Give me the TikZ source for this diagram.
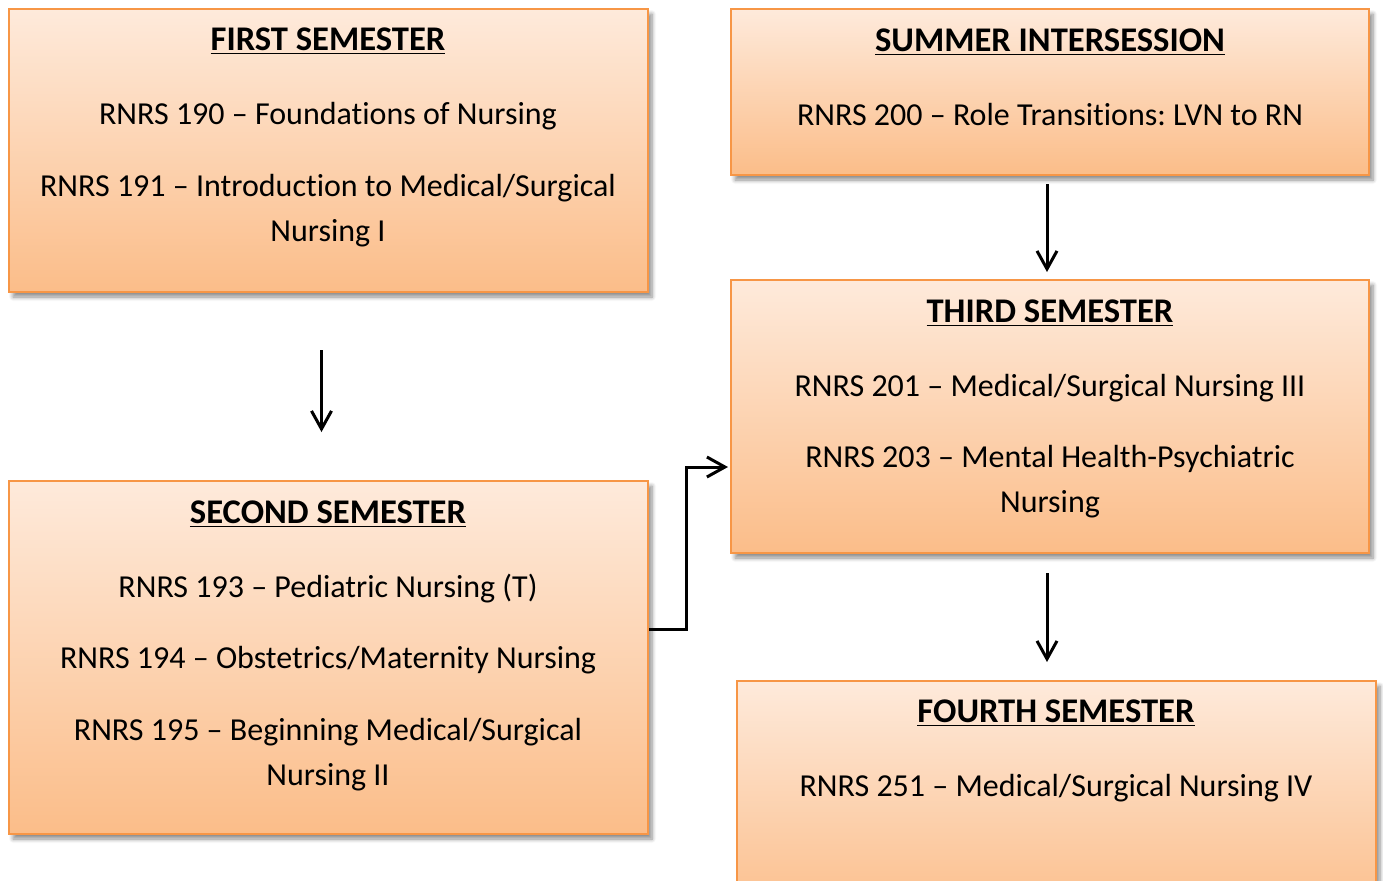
\documentclass[tikz,border=0pt]{standalone}
\usepackage{fontspec}
\setmainfont[Ligatures={TeX,NoCommon}]{Carlito}
\usetikzlibrary{shadows.blur,arrows.meta}
\definecolor{semtop}{HTML}{FEEADB}
\definecolor{sembot}{HTML}{FBBD89}
\definecolor{semline}{HTML}{F79646}
\frenchspacing
\tikzset{
  sembox/.style={draw=semline,line width=1pt,top color=semtop,bottom color=sembot,
    blur shadow={shadow xshift=2pt,shadow yshift=-2.5pt,shadow blur steps=6,shadow blur radius=2pt,shadow opacity=45}},
  semtext/.style={anchor=north,align=center,inner sep=0pt,font=\fontsize{16}{22.5}\selectfont},
  flow/.style={line width=1.5pt,-{Straight Barb[length=9pt,width=10pt,line width=1.5pt]}}
}
\newcommand{\semtitle}[1]{{\fontsize{17.3}{22.5}\selectfont\textbf{\underline{#1}}}}
\begin{document}
\begin{tikzpicture}[x=0.5pt,y=-0.5pt]
\useasboundingbox (0,0) rectangle (1383,880);
% boxes
\node[sembox,minimum width=319.5pt,minimum height=141.5pt] (first) at (328.5,150.5) {};
\node[sembox,minimum width=319pt,minimum height=83pt] (summer) at (1050,92) {};
\node[sembox,minimum width=319pt,minimum height=136.5pt] (third) at (1050,416.5) {};
\node[sembox,minimum width=319.5pt,minimum height=176.5pt] (second) at (328.5,657.5) {};
\node[sembox,minimum width=319.5pt,minimum height=120pt] (fourth) at (1056.5,801) {};
% texts
\node[semtext] (firsttxt) at (328,27) {\semtitle{FIRST SEMESTER}\\[14.5pt]
  RNRS 190 -- Foundations of Nursing\\[13.5pt]
  RNRS 191 -- Introduction to Medical/Surgical\\ Nursing I};
\node[semtext] (summertxt) at (1050,28) {\semtitle{SUMMER INTERSESSION}\\[14.5pt]
  RNRS 200 -- Role Transitions: LVN to RN};
\node[semtext] (thirdtxt) at (1050,299) {\semtitle{THIRD SEMESTER}\\[14.5pt]
  RNRS 201 -- Medical/Surgical Nursing III\\[13pt]
  RNRS 203 -- Mental Health-Psychiatric\\ Nursing};
\node[semtext] (secondtxt) at (328,500) {\semtitle{SECOND SEMESTER}\\[14.5pt]
  RNRS 193 -- Pediatric Nursing (T)\\[13pt]
  RNRS 194 -- Obstetrics/Maternity Nursing\\[13.5pt]
  RNRS 195 -- Beginning Medical/Surgical\\ Nursing II};
\node[semtext] (fourthtxt) at (1056,699) {\semtitle{FOURTH SEMESTER}\\[14.5pt]
  RNRS 251 -- Medical/Surgical Nursing IV};
% arrows
\draw[flow,shorten <=28.5pt,shorten >=24pt] ([xshift=-3.5pt]first.south) -- ([xshift=-3.5pt]second.north);
\draw[flow,shorten <=4pt,shorten >=3.5pt] ([xshift=-1.5pt]summer.south) -- ([xshift=-1.5pt]third.north);
\draw[flow,shorten <=9.5pt,shorten >=9pt] ([xshift=-1.5pt]third.south) -- ([xshift=-1.5pt]third.south |- fourth.north);
\draw[flow] (second.east |- 0,629) -| (686,467) -- ([xshift=-1pt]third.west |- 0,467);
\end{tikzpicture}
\end{document}
